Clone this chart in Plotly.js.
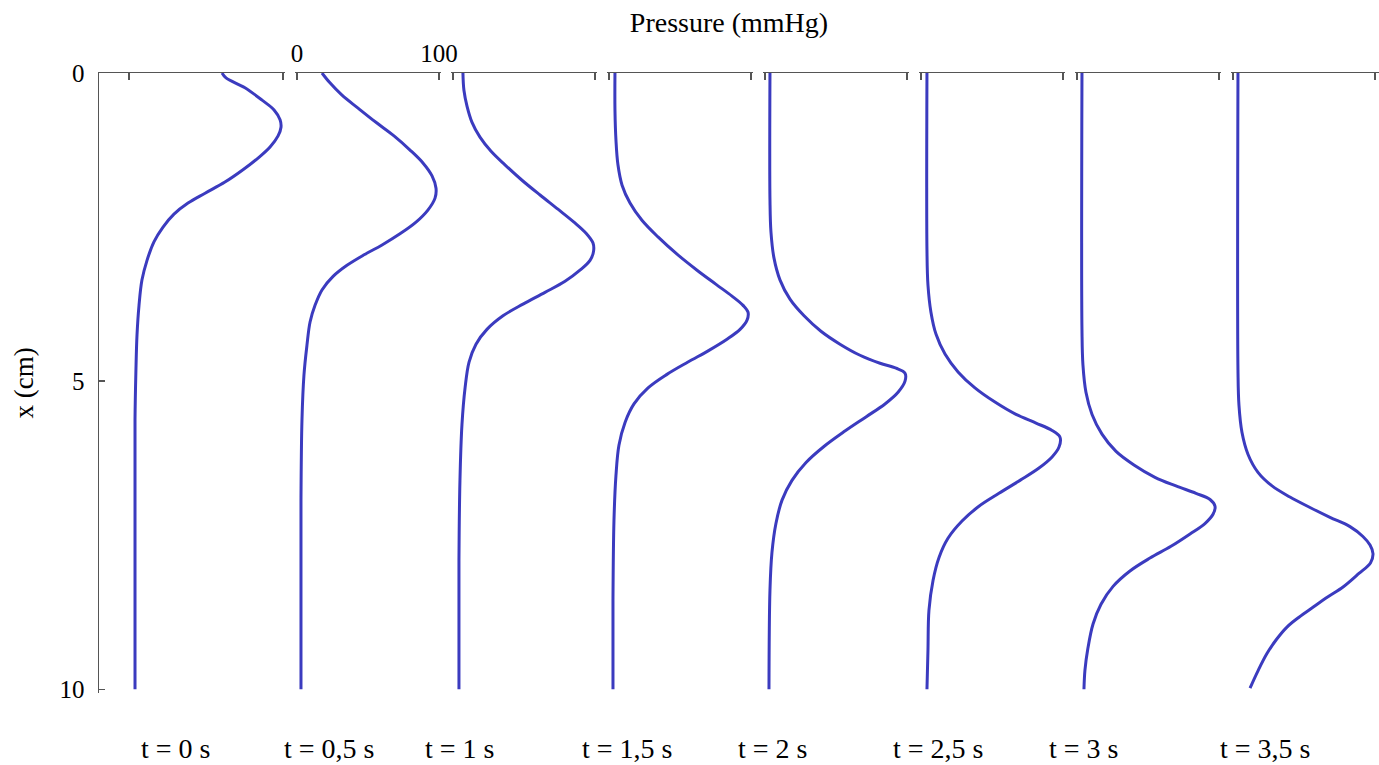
<!DOCTYPE html>
<html>
<head>
<meta charset="utf-8">
<script src="https://cdn.plot.ly/plotly-3.0.1.min.js"></script>
<style>html,body{margin:0;padding:0;background:#fff;}#chart{width:1379px;height:765px;}</style>
</head>
<body>
<div id="chart"></div>
<script>
// ---- data ----
const timeLabels = ['t = 0 s', 't = 0,5 s', 't = 1 s', 't = 1,5 s', 't = 2 s', 't = 2,5 s', 't = 3 s', 't = 3,5 s'];

// depth x (cm) and pressure (mmHg) for each time
const depthT0    = [0, 0.08, 0.24, 0.44, 0.60, 0.76, 0.88, 1.02, 1.20, 1.38, 1.57, 1.77, 1.95, 2.11, 2.29, 2.50, 2.74, 3.04, 3.36, 3.77, 4.25, 4.82, 5.63, 6.93, 10];
const pressureT0 = [60.4, 63.0, 75.3, 86.4, 94.2, 98.1, 98.7, 96.8, 91.6, 83.8, 74.0, 62.3, 49.4, 38.3, 29.2, 22.1, 16.2, 11.7, 8.4, 6.5, 5.2, 4.5, 3.9, 3.9, 3.9];

const depthT05    = [0, 0.16, 0.36, 0.57, 0.80, 1.02, 1.25, 1.46, 1.67, 1.87, 2.03, 2.22, 2.42, 2.61, 2.79, 2.95, 3.12, 3.30, 3.52, 3.77, 4.04, 4.42, 4.90, 5.63, 6.93, 10];
const pressureT05 = [17.6, 23.2, 31.7, 43.0, 55.6, 68.3, 79.6, 88.7, 95.1, 97.9, 97.2, 92.3, 83.8, 72.5, 59.9, 47.2, 35.2, 25.4, 17.6, 12.7, 9.2, 7.0, 4.9, 3.5, 2.8, 2.8];

const depthT1    = [0, 0.28, 0.54, 0.80, 1.04, 1.27, 1.49, 1.74, 1.98, 2.21, 2.42, 2.60, 2.76, 2.89, 3.04, 3.20, 3.38, 3.56, 3.75, 3.94, 4.16, 4.40, 4.69, 5.11, 5.71, 6.61, 7.91, 10];
const pressureT1 = [7.0, 7.7, 9.9, 13.4, 19.0, 26.8, 36.6, 48.6, 61.3, 73.9, 85.2, 93.7, 98.6, 99.0, 96.5, 89.4, 78.9, 64.8, 49.3, 35.2, 23.9, 16.2, 11.3, 8.5, 6.3, 4.9, 4.2, 4.2];

const depthT15    = [0, 0.60, 1.09, 1.49, 1.82, 2.11, 2.39, 2.66, 2.94, 3.20, 3.43, 3.62, 3.77, 3.88, 4.01, 4.16, 4.32, 4.50, 4.69, 4.89, 5.11, 5.37, 5.67, 6.04, 6.53, 7.26, 8.56, 10];
const pressureT15 = [4.2, 4.2, 4.9, 6.3, 9.2, 14.8, 23.2, 34.5, 47.9, 62.0, 75.4, 86.6, 94.4, 97.9, 97.2, 92.3, 83.1, 70.4, 55.6, 40.8, 27.5, 17.6, 11.3, 7.0, 4.9, 3.5, 2.8, 2.8];

const depthT2    = [0, 2.06, 2.58, 3.00, 3.36, 3.67, 3.94, 4.19, 4.40, 4.58, 4.71, 4.79, 4.87, 5.00, 5.18, 5.37, 5.58, 5.81, 6.06, 6.32, 6.61, 6.93, 7.31, 7.78, 8.39, 10];
const pressureT2 = [3.5, 3.5, 4.2, 6.3, 10.6, 17.6, 27.5, 39.4, 52.8, 66.9, 81.0, 92.3, 98.6, 98.6, 93.7, 84.5, 71.1, 56.3, 41.5, 28.9, 19.0, 12.0, 7.7, 4.9, 3.5, 2.8];

const depthT25    = [0, 2.87, 3.44, 3.88, 4.24, 4.56, 4.85, 5.11, 5.34, 5.54, 5.68, 5.80, 5.91, 6.07, 6.23, 6.41, 6.61, 6.82, 7.03, 7.27, 7.55, 7.86, 8.23, 8.72, 9.37, 10];
const pressureT25 = [4.2, 4.2, 4.9, 7.0, 10.6, 16.9, 26.1, 38.0, 52.1, 66.9, 81.0, 92.3, 97.9, 97.2, 92.3, 83.1, 69.7, 54.9, 40.8, 28.9, 19.0, 12.7, 8.5, 5.6, 4.9, 4.2];

const depthT3    = [0, 4.17, 4.74, 5.18, 5.54, 5.86, 6.14, 6.36, 6.56, 6.70, 6.82, 6.92, 7.03, 7.16, 7.31, 7.48, 7.68, 7.87, 8.08, 8.33, 8.62, 8.94, 9.33, 9.69, 10];
const pressureT3 = [3.5, 3.5, 4.2, 6.3, 10.6, 17.6, 27.5, 40.1, 54.9, 69.7, 83.8, 93.7, 97.2, 95.8, 90.1, 79.6, 66.2, 51.4, 37.3, 25.4, 16.9, 11.3, 7.7, 5.6, 4.9];

const depthT35    = [0, 4.82, 5.39, 5.83, 6.19, 6.48, 6.70, 6.88, 7.05, 7.21, 7.36, 7.52, 7.66, 7.80, 7.95, 8.12, 8.34, 8.50, 8.67, 8.83, 8.99, 9.20, 9.42, 9.70, 9.98];
const pressureT35 = [3.5, 3.5, 4.2, 6.3, 10.6, 17.6, 27.5, 40.1, 54.2, 68.3, 82.4, 91.5, 96.5, 98.6, 96.8, 88.7, 77.5, 66.9, 56.3, 46.5, 38.0, 30.3, 23.9, 17.6, 12.0];

const depths    = [depthT0, depthT05, depthT1, depthT15, depthT2, depthT25, depthT3, depthT35];
const pressures = [pressureT0, pressureT05, pressureT1, pressureT15, pressureT2, pressureT25, pressureT3, pressureT35];

const depthTicks = [0, 5, 10];
const pressureTicks = [0, 100];

// ---- layout geometry (pixels) ----
const W = 1379, H = 765;
const depthMax = 10.06;                 // tiny overshoot so the end tick is kept
const plotL = 99, plotR = 1379, plotT = 73, plotBTen = 689;
const pxPerCm = (plotBTen - plotT) / 10;
const plotB = plotT + depthMax * pxPerCm;
const plotW = plotR - plotL, plotH = plotB - plotT;
const panelLeftPx  = [99, 297, 453, 609, 765, 921, 1077, 1233];
const panelRightPx = [283, 439, 595, 751, 907, 1063, 1219, 1379];
const zeroPx = [129, 297, 453, 609, 765, 921, 1077, 1233];
const pxPerUnit = [1.54, 1.42, 1.42, 1.42, 1.42, 1.42, 1.42, 1.42];
const labelCenterPx = [175, 329, 459, 627, 772, 938, 1083, 1265];
const labelYPx = 748;
const edgePad = 2;

const serif = 'Liberation Serif, Times New Roman, serif';
const axisColor = '#555555';
const lineColor = '#3b3bbf';

const traces = [];
const layout = {
  width: W, height: H,
  margin: {l: plotL, r: W - plotR, t: plotT, b: H - plotB, pad: 0},
  paper_bgcolor: '#ffffff', plot_bgcolor: '#ffffff',
  showlegend: false,
  font: {family: serif, color: '#000', size: 25},
  title: {
    text: 'Pressure (mmHg)',
    x: 729 / W, xanchor: 'center', xref: 'container',
    y: 1 - 22 / H, yanchor: 'middle', yref: 'container',
    font: {family: serif, size: 28, color: '#000'}
  },
  yaxis: {
    range: [depthMax, 0],
    domain: [0, 1],
    anchor: 'x',
    tickvals: depthTicks,
    ticks: 'inside', ticklen: 6, tickwidth: 1.5, tickcolor: axisColor,
    showline: true, linecolor: axisColor, linewidth: 1.5,
    showgrid: false, zeroline: false,
    ticklabelstandoff: 8,
    tickfont: {family: serif, size: 25, color: '#000'},
    title: {text: 'x (cm)', standoff: 18, font: {family: serif, size: 27, color: '#000'}}
  },
  annotations: []
};

for (let i = 0; i < depths.length; i++) {
  const axName = i === 0 ? 'xaxis' : 'xaxis' + (i + 1);
  const axRef = i === 0 ? 'x' : 'x' + (i + 1);
  const leftPx = i === 0 ? panelLeftPx[i] : panelLeftPx[i] - edgePad;
  const rightPx = i === depths.length - 1 ? panelRightPx[i] : panelRightPx[i] + edgePad;
  const lo = (leftPx - zeroPx[i]) / pxPerUnit[i];
  const hi = (rightPx - zeroPx[i]) / pxPerUnit[i];
  const ticks = pressureTicks.filter(v => v >= lo && v <= hi);
  layout[axName] = {
    domain: [(leftPx - plotL) / plotW, (rightPx - plotL) / plotW],
    range: [lo, hi],
    anchor: 'y',
    side: 'top',
    tickvals: ticks,
    ticktext: ticks.map(v => String(v)),
    showticklabels: i === 1,
    ticks: 'inside', ticklen: 7, tickwidth: 1.5, tickcolor: axisColor,
    showline: true, linecolor: axisColor, linewidth: 1.5,
    showgrid: false, zeroline: false,
    tickfont: {family: serif, size: 25, color: '#000'}
  };
  traces.push({
    type: 'scatter', mode: 'lines',
    x: pressures[i], y: depths[i],
    xaxis: axRef, yaxis: 'y',
    line: {color: lineColor, width: 3, shape: 'spline', smoothing: 1},
    hoverinfo: 'skip'
  });
  layout.annotations.push({
    text: timeLabels[i],
    xref: 'paper', yref: 'paper',
    x: (labelCenterPx[i] - plotL) / plotW,
    y: (plotB - labelYPx) / plotH,
    xanchor: 'center', yanchor: 'middle',
    showarrow: false,
    font: {family: serif, size: 28, color: '#000'}
  });
}

Plotly.newPlot('chart', traces, layout, {displayModeBar: false, staticPlot: true});
</script>
</body>
</html>
